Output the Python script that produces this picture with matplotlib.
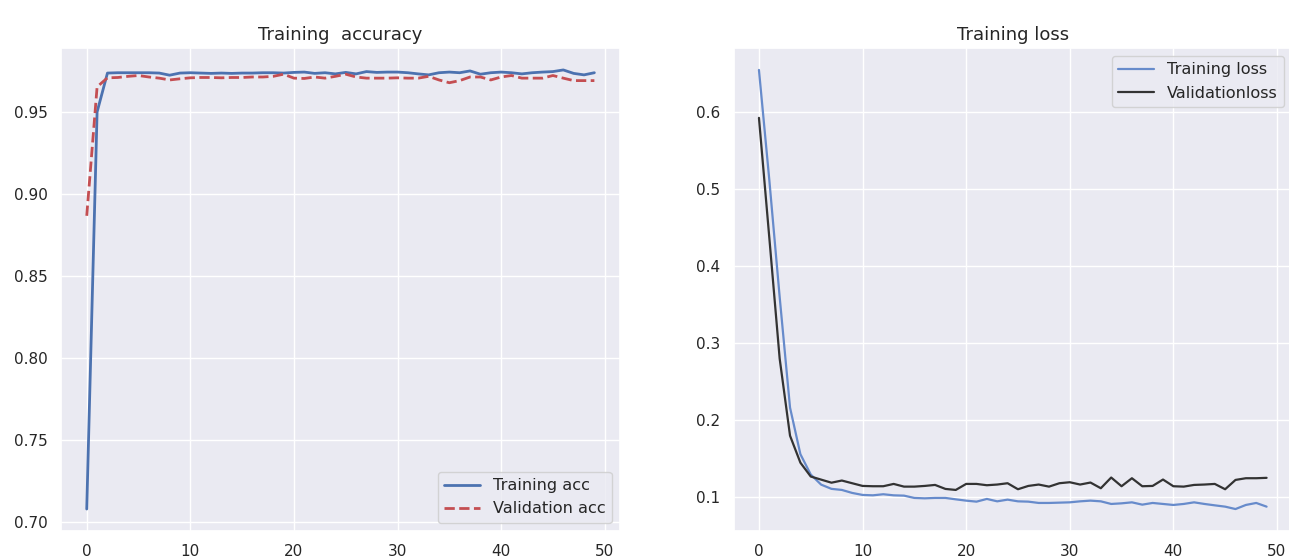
import matplotlib
matplotlib.use('Agg')
import matplotlib.pyplot as plt
import seaborn as sns

sns.set_theme(style='darkgrid', color_codes=True)
plt.rcParams['font.family'] = ['DejaVu Sans']

epochs = list(range(50))

train_acc = [0.708, 0.950, 0.9737, 0.9739, 0.9739, 0.9739, 0.9739, 0.9737, 0.9724, 0.9737,
             0.9739, 0.9737, 0.9735, 0.9737, 0.9735, 0.9737, 0.9737, 0.9739, 0.9739, 0.9737,
             0.9741, 0.9743, 0.9735, 0.9739, 0.9732, 0.9741, 0.9732, 0.9746, 0.9741, 0.9743,
             0.9743, 0.9739, 0.9732, 0.9726, 0.9739, 0.9743, 0.9739, 0.9750, 0.9730, 0.9739,
             0.9743, 0.9739, 0.9732, 0.9739, 0.9743, 0.9746, 0.9756, 0.9735, 0.9726, 0.9739]
val_acc = [0.8867, 0.9653, 0.9708, 0.9710, 0.9717, 0.9722, 0.9713, 0.9706, 0.9695, 0.9702,
           0.9708, 0.9710, 0.9710, 0.9708, 0.9710, 0.9710, 0.9713, 0.9713, 0.9717, 0.9730,
           0.9706, 0.9704, 0.9713, 0.9706, 0.9717, 0.9730, 0.9713, 0.9706, 0.9706, 0.9706,
           0.9708, 0.9706, 0.9706, 0.9717, 0.9695, 0.9678, 0.9691, 0.9713, 0.9713, 0.9695,
           0.9713, 0.9722, 0.9706, 0.9706, 0.9706, 0.9722, 0.9706, 0.9691, 0.9691, 0.9691]

train_loss = [0.6548, 0.512, 0.360, 0.2165, 0.156, 0.1296, 0.1165, 0.111, 0.1096, 0.1057,
              0.1031, 0.1026, 0.1040, 0.1026, 0.1022, 0.0992, 0.0987, 0.0992, 0.0992, 0.0974,
              0.0957, 0.0944, 0.0979, 0.0948, 0.0970, 0.0948, 0.0944, 0.0927, 0.0927, 0.0931,
              0.0935, 0.0948, 0.0957, 0.0948, 0.0914, 0.0922, 0.0935, 0.0905, 0.0927, 0.0914,
              0.0901, 0.0914, 0.0935, 0.0914, 0.0896, 0.0879, 0.0848, 0.0901, 0.0927, 0.0879]
val_loss = [0.5926, 0.437, 0.280, 0.180, 0.145, 0.127, 0.123, 0.119, 0.1218, 0.1183,
            0.1148, 0.1144, 0.1144, 0.1174, 0.1139, 0.1139, 0.1148, 0.1161, 0.1109, 0.1096,
            0.1174, 0.1174, 0.1157, 0.1166, 0.1183, 0.1105, 0.1148, 0.1166, 0.1139, 0.1183,
            0.1196, 0.1166, 0.1192, 0.1118, 0.1257, 0.1144, 0.1248, 0.1144, 0.1148, 0.1231,
            0.1144, 0.1139, 0.1161, 0.1166, 0.1174, 0.1105, 0.1226, 0.1248, 0.1248, 0.1253]

fig = plt.figure(figsize=(12.89, 5.58), dpi=100)
ax1 = fig.add_axes([0.0476, 0.0484, 0.4332, 0.8656])
ax2 = fig.add_axes([0.5691, 0.0484, 0.4332, 0.8656])

ax1.plot(epochs, train_acc, 'b', lw=2, label='Training acc')
ax1.plot(epochs, val_acc, 'r--', lw=2, label='Validation acc')
ax1.set_title('Training  accuracy', fontsize=13)
ax1.legend(loc='lower right', fontsize=11.6, handlelength=2.2)

ax2.plot(epochs, train_loss, color='#678bcb', lw=1.6, label='Training loss')
ax2.plot(epochs, val_loss, color='#333333', lw=1.6, label='Validationloss')
ax2.set_title('Training loss', fontsize=13)
ax2.legend(loc='upper right', fontsize=11.6, handlelength=2.2)

fig.savefig('out.png', dpi=100)
